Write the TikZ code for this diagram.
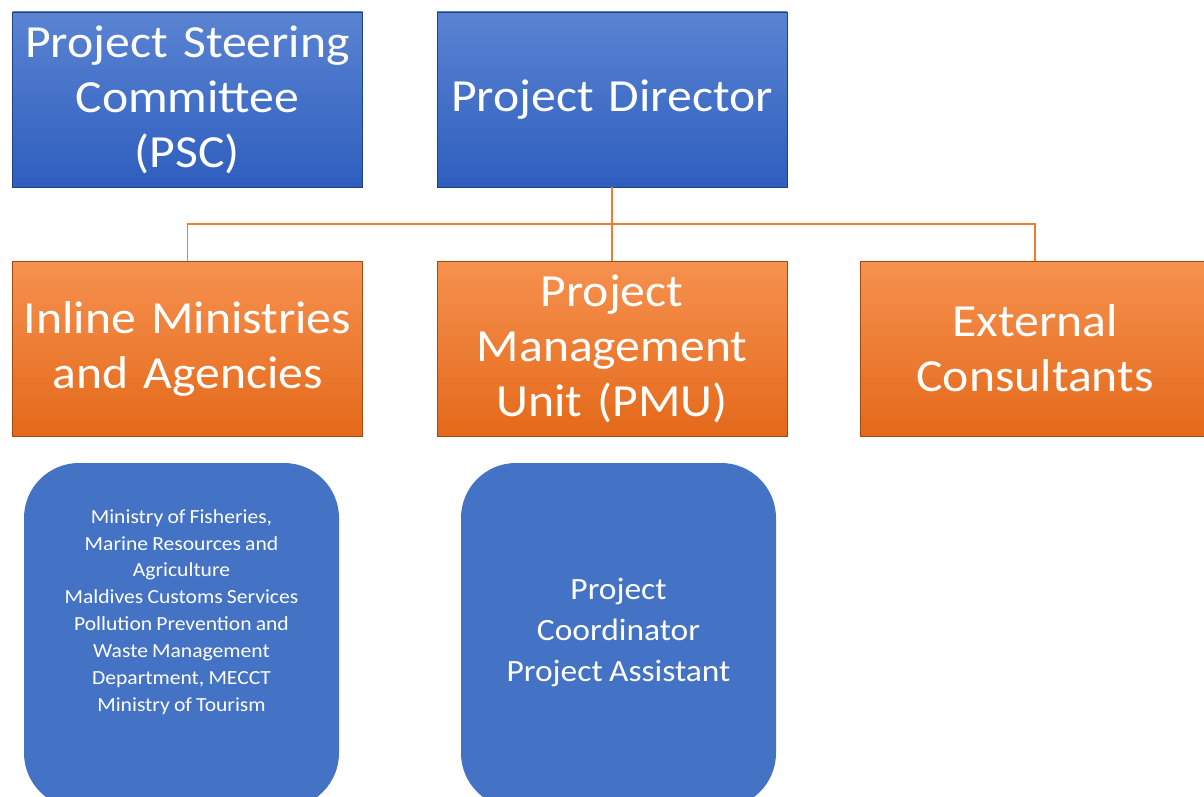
\documentclass[tikz,border=0pt]{standalone}
\usepackage{fontspec}
\setmainfont{Carlito}
\newfontfamily\widefont[FakeStretch=1.08,WordSpace=0.85]{Carlito}
\definecolor{blueTop}{HTML}{5A83D2}
\definecolor{blueBot}{HTML}{2E5EBE}
\definecolor{orTop}{HTML}{F6914F}
\definecolor{orBot}{HTML}{E4691A}
\definecolor{flatBlue}{HTML}{4472C4}
\definecolor{lineOr}{HTML}{ED7D31}
\tikzset{
  bigbox/.style={draw=#1!70!black, line width=0.6pt, minimum width=350pt, minimum height=175pt,
    text width=346pt, align=center, inner sep=0pt, text=white,
    font=\widefont\fontsize{46}{55}\selectfont},
  bluebox/.style={bigbox=blueBot, shading=axis, top color=blueTop, bottom color=blueBot},
  orbox/.style={bigbox=orBot, shading=axis, top color=orTop, bottom color=orBot},
  roundbox/.style={fill=flatBlue, draw=none, rounded corners=55pt, minimum width=315pt, minimum height=345pt, inner sep=0pt},
  smalltxt/.style={text=white, align=center, font=\widefont\fontsize{20}{26.9}\selectfont},
  midtxt/.style={text=white, align=center, font=\widefont\fontsize{31}{41}\selectfont},
  link/.style={draw=lineOr, line width=1.3pt},
}
\begin{document}
\begin{tikzpicture}[x=1pt,y=-1pt]
\clip (0,0) rectangle (1204,797);
\fill[white] (0,0) rectangle (1204,797);
% top row
\node[bluebox] (psc) at (187.5,99.5) {Project Steering\\Committee\\(PSC)};
\node[bluebox] (dir) at (612,99.5) {Project Director};
% second row
\node[orbox] (inl) at (187.5,348.5) {Inline Ministries\\and Agencies};
\node[orbox] (pmu) at (612,348.5) {Project\\Management\\Unit (PMU)};
\node[orbox] (ext) at (1035,348.5) {External\\Consultants};
% connectors
\coordinate (bus) at (612,224);
\draw[link] (dir.south) -- (bus);
\draw[link] (inl.north) |- (bus) -| (ext.north);
\draw[link] (bus) -- (pmu.north);
% bottom boxes
\node[roundbox] (lbox) at (181.5,635.5) {};
\node[roundbox] (rbox) at (618.5,635.5) {};
\node[smalltxt] (ltext) at (181.5,612) {Ministry of Fisheries,\\Marine Resources and\\Agriculture\\Maldives Customs Services\\Pollution Prevention and\\Waste Management\\Department, MECCT\\Ministry of Tourism};
\node[midtxt] (rtext) at (618.5,632) {Project\\Coordinator\\Project Assistant};
\end{tikzpicture}
\end{document}
